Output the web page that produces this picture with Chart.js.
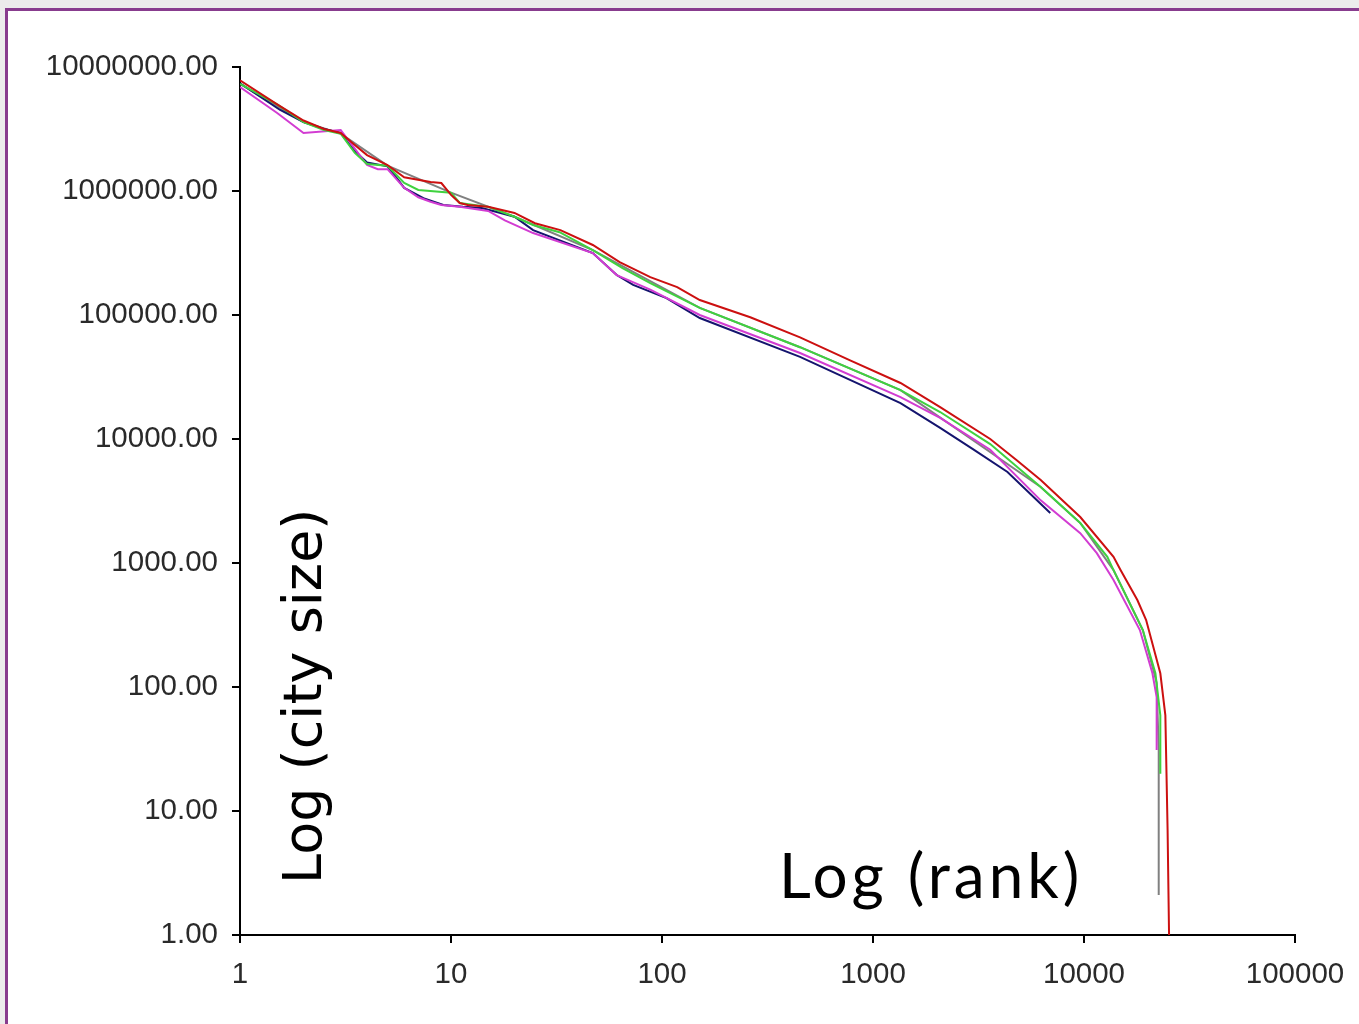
<!DOCTYPE html>
<html>
<head>
<meta charset="utf-8">
<script src="https://cdn.jsdelivr.net/npm/chart.js@4.4.1/dist/chart.umd.min.js"></script>
<style>
  body { margin: 0; background: #ececec; width: 1359px; height: 1024px; overflow: hidden; position: relative; }
  #frame { position: absolute; left: 5px; top: 8px; width: 1370px; height: 1030px; background: #fff; border: 3px solid #883c8e; }
  #dataChart { position: absolute; left: 0; top: 0; }
</style>
</head>
<body>
<div id="frame"></div>
<canvas id="dataChart" width="1359" height="1024"></canvas>
<script>
// rank / city size, one pair of arrays per series
var redRank  = [1, 1.5, 2, 2.5, 3, 3.5, 4, 5, 6, 8, 9, 10, 11, 12, 15, 20, 25, 33, 47, 63, 88, 118, 151, 262, 451, 779, 1350, 2081, 3594, 4784, 6235, 9600, 13800, 14900, 17900, 19700, 23000, 24300, 24900, 25300];
var redSize  = [7800000, 5000000, 3700000, 3160000, 2940000, 2350000, 1950000, 1620000, 1290000, 1180000, 1160000, 930000, 800000, 770000, 745000, 665000, 550000, 484000, 367000, 267000, 202000, 168000, 132000, 96000, 66000, 43000, 28300, 18100, 10000, 6770, 4670, 2350, 1120, 877, 503, 347, 129, 59, 7, 1];

var greenRank = [1, 1.5, 2, 2.5, 3, 3.5, 4, 5, 6, 7, 10, 11, 15, 20, 24.5, 32.7, 47, 65, 88, 151, 451, 1350, 2081, 3594, 6235, 9600, 12900, 13800, 19000, 21800, 23000, 23000];
var greenSize = [7300000, 5000000, 3600000, 3100000, 2900000, 2030000, 1650000, 1600000, 1160000, 1020000, 970000, 800000, 745000, 620000, 532000, 465000, 334000, 239000, 181000, 114000, 55000, 24800, 16500, 9100, 4100, 2100, 1120, 877, 288, 129, 59, 20];

var magentaRank = [1, 1.5, 2, 3, 3.5, 4, 4.5, 5, 6, 7, 8, 9, 11, 15, 18, 24.5, 47, 61, 88, 151, 451, 1350, 2081, 3594, 6235, 9600, 11500, 13800, 18400, 21100, 22100, 22100];
var magentaSize = [6900000, 4260000, 2940000, 3100000, 2200000, 1620000, 1500000, 1500000, 1060000, 890000, 820000, 770000, 745000, 690000, 580000, 458000, 316000, 210000, 160000, 100000, 49400, 21800, 14800, 8200, 3200, 1740, 1200, 729, 288, 129, 83, 31];

var navyRank = [1, 1.55, 2, 2.5, 3, 3.5, 4, 5, 5.5, 6, 7.4, 9.2, 11.4, 14, 20, 24.5, 47, 61, 73, 105, 151, 451, 1350, 2081, 3000, 4339, 6919];
var navySize = [7400000, 4500000, 3600000, 3160000, 2940000, 2100000, 1700000, 1580000, 1290000, 1060000, 875000, 771000, 745000, 730000, 620000, 484000, 316000, 210000, 175000, 137000, 94600, 45900, 19500, 12300, 8200, 5420, 2530];

var grayRank = [1, 2, 3, 5, 10, 20, 47, 151, 451, 1350, 6235, 9600, 13800, 19000, 22100, 22600, 22600];
var graySize = [7300000, 3600000, 2900000, 1600000, 970000, 620000, 334000, 114000, 55000, 24800, 4100, 2100, 877, 288, 108, 31, 2.1];

var xTicks = [1, 10, 100, 1000, 10000, 100000];
var xTickLabels = ['1', '10', '100', '1000', '10000', '100000'];
var yTicks = [1, 10, 100, 1000, 10000, 100000, 1000000, 10000000];
var yTickLabels = ['1.00', '10.00', '100.00', '1000.00', '10000.00', '100000.00', '1000000.00', '10000000.00'];

function pts(r, s)
{
  var out = [];
  for(var i = 0; i < r.length; i++) out.push({x: r[i], y: s[i]});
  return out;
}

function line(label, r, s, color)
{
  return {
    label: label,
    data: pts(r, s),
    showLine: true,
    borderColor: color,
    borderWidth: 2,
    pointRadius: 0,
    tension: 0,
    fill: false
  };
}

// axis titles sit inside the plot area, so they are drawn by hand
var titles = {
  id: 'titles',
  afterDraw: function(chart)
  {
    var ctx = chart.ctx;
    ctx.save();
    ctx.fillStyle = '#000';
    ctx.textBaseline = 'alphabetic';
    ctx.font = '62px Lato';
    ctx.letterSpacing = '4px';
    ctx.fillText('Log (rank)', 779, 898);
    ctx.letterSpacing = '0px';
    ctx.translate(321, 884);
    ctx.rotate(-Math.PI / 2);
    ctx.font = '54px "DejaVu Sans"';
    ctx.fillText('Log (city size)', 0, 0);
    ctx.restore();
  }
};

var tickFont = { family: '"Liberation Sans", Arial, sans-serif', size: 29.5 };

new Chart(document.getElementById('dataChart'), {
  type: 'scatter',
  data: {
    datasets: [
      line('red', redRank, redSize, '#cc1010'),
      line('green', greenRank, greenSize, '#3fd23f'),
      line('magenta', magentaRank, magentaSize, '#d23cd2'),
      line('navy', navyRank, navySize, '#14146e'),
      line('gray', grayRank, graySize, '#808080')
    ]
  },
  options: {
    responsive: false,
    animation: false,
    layout: { padding: { left: 0, top: 67, right: 64, bottom: 0 } },
    plugins: { legend: { display: false }, tooltip: { enabled: false } },
    scales: {
      x: {
        type: 'logarithmic',
        min: 1,
        max: 100000,
        afterBuildTicks: function(s) { s.ticks = xTicks.map(function(v) { return {value: v}; }); },
        afterFit: function(s) { s.height = 89; },
        border: { color: '#000', width: 2 },
        grid: { drawOnChartArea: false, color: '#000', lineWidth: 2, tickLength: 8 },
        ticks: {
          color: '#2a2a2a',
          font: tickFont,
          padding: 14,
          maxRotation: 0,
          autoSkip: false,
          callback: function(v) { var i = xTicks.indexOf(v); return i < 0 ? '' : xTickLabels[i]; }
        }
      },
      y: {
        type: 'logarithmic',
        min: 1,
        max: 10000000,
        afterBuildTicks: function(s) { s.ticks = yTicks.map(function(v) { return {value: v}; }); },
        afterFit: function(s) { s.width = 240; },
        border: { color: '#000', width: 2 },
        grid: { drawOnChartArea: false, color: '#000', lineWidth: 2, tickLength: 8 },
        ticks: {
          color: '#2a2a2a',
          font: tickFont,
          padding: 14,
          autoSkip: false,
          callback: function(v) { var i = yTicks.indexOf(v); return i < 0 ? '' : yTickLabels[i]; }
        }
      }
    }
  },
  plugins: [titles]
});
</script>
</body>
</html>
